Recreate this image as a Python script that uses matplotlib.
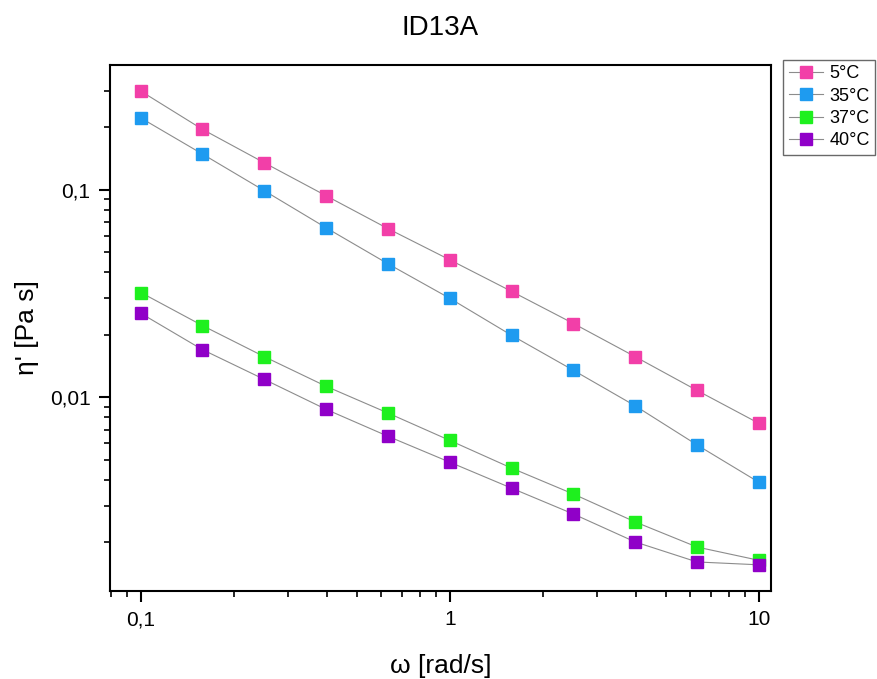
import matplotlib.pyplot as plt
from matplotlib.ticker import FixedLocator, FuncFormatter, LogLocator, NullFormatter

omega = [0.1, 0.158, 0.251, 0.398, 0.631, 1.0, 1.585, 2.512, 3.981, 6.31, 10.0]

eta_5 = [0.299, 0.196, 0.135, 0.0936, 0.065, 0.046, 0.0324, 0.0227, 0.0157, 0.0108, 0.0075]
eta_35 = [0.222, 0.149, 0.099, 0.0656, 0.044, 0.030, 0.0199, 0.0135, 0.0091, 0.0059, 0.0039]
eta_37 = [0.032, 0.0222, 0.0157, 0.0113, 0.0084, 0.0062, 0.00456, 0.00342, 0.00251, 0.0019, 0.00164]
eta_40 = [0.0254, 0.017, 0.0122, 0.00875, 0.00649, 0.00487, 0.00365, 0.00274, 0.00201, 0.00161, 0.00156]

labels = ["5°C", "35°C", "37°C", "40°C"]
colors = ["#f23fa8", "#1e9bf0", "#1ef01e", "#9000c8"]

plt.rcParams['font.family'] = ['Liberation Sans', 'DejaVu Sans']

fig = plt.figure(figsize=(8.77, 6.79), dpi=100)
ax = fig.add_axes([0.1254, 0.130, 0.7536, 0.774])

for y, lab, c in zip([eta_5, eta_35, eta_37, eta_40], labels, colors):
    ax.plot(omega, y, color="#8c8c8c", lw=0.8, marker="s", markersize=8,
            markerfacecolor=c, markeredgecolor=c, label=lab)

ax.set_xscale("log")
ax.set_yscale("log")
ax.set_xlim(0.0794, 10.94)
ax.set_ylim(0.00117, 0.399)

comma = FuncFormatter(lambda v, p: ("%g" % v).replace(".", ","))
ax.xaxis.set_major_locator(FixedLocator([0.1, 1, 10]))
ax.yaxis.set_major_locator(FixedLocator([0.01, 0.1]))
ax.xaxis.set_major_formatter(comma)
ax.yaxis.set_major_formatter(comma)
ax.xaxis.set_minor_locator(LogLocator(base=10, subs=range(2, 10)))
ax.yaxis.set_minor_locator(LogLocator(base=10, subs=range(2, 10)))
ax.xaxis.set_minor_formatter(NullFormatter())
ax.yaxis.set_minor_formatter(NullFormatter())

ax.tick_params(which="major", direction="out", length=8, width=1.5, labelsize=15, pad=6)
ax.tick_params(which="minor", direction="out", length=4.5, width=1.2)
for s in ax.spines.values():
    s.set_linewidth(1.5)

ax.set_xlabel("ω [rad/s]", fontsize=19, labelpad=18)
ax.set_ylabel("η' [Pa s]", fontsize=19, labelpad=8)
ax.set_title("ID13A", fontsize=20, pad=22)

fig.legend(loc="upper left", bbox_to_anchor=(0.893, 0.912), fontsize=13,
           frameon=True, fancybox=False, edgecolor="#444444", borderpad=0.3,
           labelspacing=0.3, handlelength=1.9, handletextpad=0.35,
           borderaxespad=0.0)

fig.savefig("out.png", dpi=100)
